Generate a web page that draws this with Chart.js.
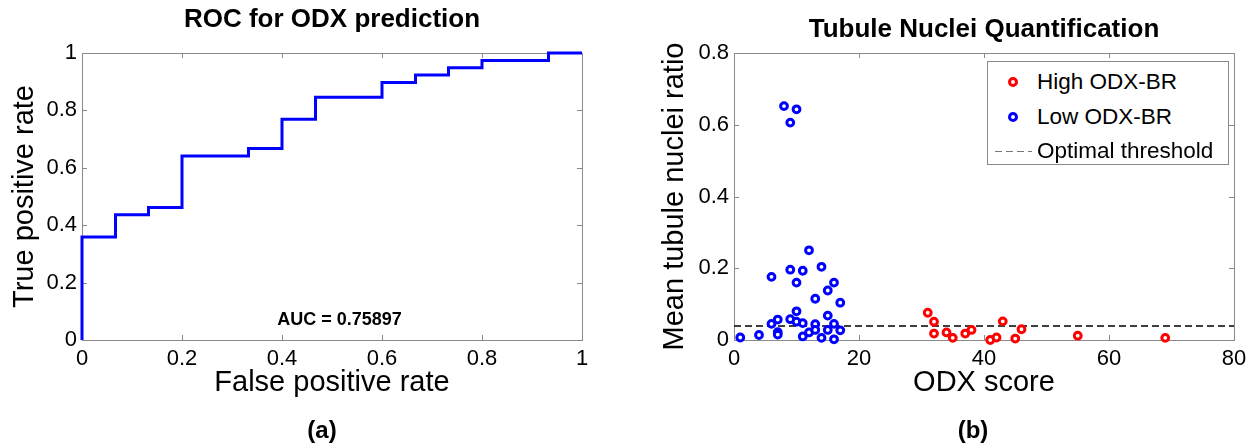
<!DOCTYPE html>
<html lang="en">
<head>
    <meta charset="UTF-8">
    <title>ROC for ODX prediction / Tubule Nuclei Quantification</title>
    <style>
        html, body { margin: 0; padding: 0; background: #fff; overflow: hidden; }
        body { width: 1256px; height: 447px; position: relative; font-family: "Liberation Sans", Arial, sans-serif; }
        #rocChart { position: absolute; left: 0; top: 0; }
        #tubuleChart { position: absolute; left: 640px; top: 0; }
        #legend { position: absolute; left: 987px; top: 61px; width: 240px; height: 102px; border: 1px solid #8a8a8a; background: #fff; font-size: 22.5px; color: #000; }
        #legend .row { position: absolute; left: 0; right: 0; height: 34px; line-height: 34px; white-space: nowrap; }
        #legend .label { position: absolute; left: 49px; top: 0; }
        #legend .dot { position: absolute; left: 20px; top: 12px; width: 4px; height: 4px; border: 3px solid; border-radius: 50%; }
        #legend .dash { position: absolute; left: 7px; top: 17px; width: 37px; height: 1px;
            background: repeating-linear-gradient(to right, #777 0 7px, transparent 7px 11px); }
    </style>
    <script src="https://cdn.jsdelivr.net/npm/chart.js"></script>
</head>
<body>
    <canvas id="rocChart" width="644" height="447"></canvas>
    <canvas id="tubuleChart" width="666" height="447"></canvas>
    <div id="legend"></div>

    <script>
        // (a) ROC curve
        const fpr = [0, 0, 0.067, 0.133, 0.2, 0.333, 0.4, 0.467, 0.6, 0.667, 0.733, 0.8, 0.933, 1];
        const tpr = [0, 0.359, 0.436, 0.462, 0.641, 0.667, 0.769, 0.846, 0.897, 0.923, 0.949, 0.974, 1, 1];
        const rocTicks = [0, 0.2, 0.4, 0.6, 0.8, 1];
        const aucLabel = 'AUC = 0.75897';

        // (b) mean tubule nuclei ratio vs ODX score
        const highScore = [31, 32, 32, 34, 35, 37, 38, 41, 42, 43, 45, 46, 55, 69];
        const highRatio = [0.076, 0.051, 0.018, 0.021, 0.006, 0.018, 0.028, 0.0, 0.007, 0.052, 0.004, 0.030, 0.012, 0.006];
        const lowScore = [1, 4, 6, 6, 7, 7, 7, 8, 9, 9, 9, 10, 10, 10, 10, 11, 11, 11, 12, 12, 13, 13, 13, 14, 14, 15, 15, 15, 16, 16, 16, 17, 17];
        const lowRatio = [0.007, 0.014, 0.176, 0.045, 0.057, 0.022, 0.015, 0.652, 0.606, 0.196, 0.058, 0.643, 0.160, 0.080, 0.051,
                          0.193, 0.047, 0.010, 0.250, 0.021, 0.115, 0.044, 0.028, 0.204, 0.006, 0.138, 0.068, 0.028, 0.160, 0.045, 0.002, 0.104, 0.027];
        const thresholdScore = [0, 80];
        const thresholdRatio = [0.039, 0.039];
        const scoreTicks = [0, 20, 40, 60, 80];
        const ratioTicks = [0, 0.2, 0.4, 0.6, 0.8];
        const seriesNames = ['High ODX-BR', 'Low ODX-BR', 'Optimal threshold'];

        Chart.defaults.font.family = '"Liberation Sans", Arial, sans-serif';
        Chart.defaults.color = '#000';

        const toPoints = (xs, ys) => xs.map((x, i) => ({ x: x, y: ys[i] }));
        const plainNumber = v => String(+Number(v).toFixed(3));

        // matlab style box with inward ticks on all four sides
        const matlabBox = {
            id: 'matlabBox',
            beforeDatasetsDraw(chart) {
                const { ctx, chartArea: a, scales } = chart;
                ctx.save();
                ctx.strokeStyle = '#8a8a8a';
                ctx.lineWidth = 1;
                ctx.strokeRect(a.left + 0.5, a.top + 0.5, a.right - a.left, a.bottom - a.top);
                ctx.beginPath();
                scales.x.ticks.forEach(t => {
                    const px = Math.round(scales.x.getPixelForValue(t.value)) + 0.5;
                    ctx.moveTo(px, a.bottom); ctx.lineTo(px, a.bottom - 5);
                    ctx.moveTo(px, a.top); ctx.lineTo(px, a.top + 5);
                });
                scales.y.ticks.forEach(t => {
                    const py = Math.round(scales.y.getPixelForValue(t.value)) + 0.5;
                    ctx.moveTo(a.left, py); ctx.lineTo(a.left + 5, py);
                    ctx.moveTo(a.right, py); ctx.lineTo(a.right - 5, py);
                });
                ctx.stroke();
                ctx.restore();
            }
        };

        function axisX(min, max, ticks, text, height) {
            return {
                type: 'linear', min: min, max: max,
                afterBuildTicks: s => { s.ticks = ticks.map(v => ({ value: v })); },
                ticks: { padding: 6, font: { size: 22 }, color: '#000', maxRotation: 0, callback: plainNumber },
                grid: { display: false, drawTicks: false },
                border: { display: false },
                title: { display: true, text: text, font: { size: 29 }, padding: { top: 0, bottom: 16.8 } },
                afterFit: s => { s.height = height; }
            };
        }

        function axisY(min, max, ticks, text, width, titlePad) {
            return {
                type: 'linear', min: min, max: max,
                afterBuildTicks: s => { s.ticks = ticks.map(v => ({ value: v })); },
                ticks: { padding: 5, font: { size: 22 }, color: '#000', callback: plainNumber },
                grid: { display: false, drawTicks: false },
                border: { display: false },
                title: { display: true, text: text, font: { size: 29 }, padding: { top: titlePad, bottom: 0 } },
                afterFit: s => { s.width = width; }
            };
        }

        function spacerY(min, max, width) {
            return {
                type: 'linear', position: 'right', min: min, max: max,
                ticks: { display: false }, grid: { display: false, drawTicks: false }, border: { display: false },
                afterFit: s => { s.width = width; }
            };
        }

        // (a)
        const aucNote = {
            id: 'aucNote',
            afterDatasetsDraw(chart) {
                const { ctx, scales } = chart;
                ctx.save();
                ctx.font = 'bold 18px "Liberation Sans", Arial, sans-serif';
                ctx.fillStyle = '#000';
                ctx.textAlign = 'center';
                ctx.textBaseline = 'middle';
                ctx.fillText(aucLabel, scales.x.getPixelForValue(0.515), scales.y.getPixelForValue(0.07));
                ctx.restore();
            }
        };

        new Chart(document.getElementById('rocChart'), {
            type: 'line',
            data: {
                datasets: [{
                    label: 'ROC',
                    data: toPoints(fpr, tpr),
                    xAxisID: 'x', yAxisID: 'y',
                    borderColor: '#0000ff',
                    borderWidth: 3,
                    stepped: 'before',
                    pointRadius: 0,
                    fill: false,
                    clip: false
                }]
            },
            options: {
                responsive: false,
                animation: false,
                events: [],
                layout: { padding: 0 },
                scales: {
                    x: axisX(0, 1, rocTicks, 'False positive rate', 77.2),
                    y: axisY(0, 1, rocTicks, 'True positive rate', 82, 7.6),
                    yRight: spacerY(0, 1, 62)
                },
                plugins: {
                    legend: { display: false },
                    tooltip: { enabled: false },
                    title: {
                        display: true, text: 'ROC for ODX prediction', fullSize: false,
                        font: { size: 26, weight: 'bold' }, color: '#000',
                        padding: { top: 4, bottom: 17.8 }
                    },
                    subtitle: {
                        display: true, text: '(a)', position: 'bottom', fullSize: true,
                        font: { size: 24, weight: 'bold' }, color: '#000',
                        padding: { top: 0, bottom: 1 }
                    }
                }
            },
            plugins: [matlabBox, aucNote]
        });

        // (b)
        const tubuleChart = new Chart(document.getElementById('tubuleChart'), {
            type: 'scatter',
            data: {
                datasets: [{
                    label: seriesNames[0],
                    data: toPoints(highScore, highRatio),
                    xAxisID: 'x', yAxisID: 'y',
                    borderColor: '#ff0000', backgroundColor: '#ffffff',
                    pointRadius: 3.4, borderWidth: 3, clip: false
                }, {
                    label: seriesNames[1],
                    data: toPoints(lowScore, lowRatio),
                    xAxisID: 'x', yAxisID: 'y',
                    borderColor: '#0000ff', backgroundColor: '#ffffff',
                    pointRadius: 3.4, borderWidth: 3, clip: false
                }, {
                    label: seriesNames[2],
                    type: 'line',
                    data: toPoints(thresholdScore, thresholdRatio),
                    xAxisID: 'x', yAxisID: 'y',
                    showLine: true,
                    borderColor: '#000', borderWidth: 1.3, borderDash: [7, 4],
                    pointRadius: 0, fill: false
                }]
            },
            options: {
                responsive: false,
                animation: false,
                events: [],
                layout: { padding: 0 },
                scales: {
                    x: axisX(0, 80, scoreTicks, 'ODX score', 77.2),
                    y: axisY(0, 0.8, ratioTicks, 'Mean tubule nuclei ratio', 94, 17.6),
                    yRight: spacerY(0, 0.8, 72)
                },
                plugins: {
                    legend: { display: false },
                    tooltip: { enabled: false },
                    title: {
                        display: true, text: 'Tubule Nuclei Quantification', fullSize: false,
                        font: { size: 26, weight: 'bold' }, color: '#000',
                        padding: { top: 13.9, bottom: 7.9 }
                    },
                    subtitle: {
                        display: true, text: '(b)', position: 'bottom', fullSize: true,
                        font: { size: 24, weight: 'bold' }, color: '#000',
                        padding: { top: 0, bottom: 1 }
                    }
                }
            },
            plugins: [matlabBox]
        });

        // boxed legend in the upper right, built from the datasets
        const legendEl = document.getElementById('legend');
        tubuleChart.data.datasets.forEach((ds, i) => {
            const row = document.createElement('div');
            row.className = 'row';
            row.style.top = (3 + i * 34.5) + 'px';
            const sym = document.createElement('span');
            if (ds.showLine) {
                sym.className = 'dash';
            } else {
                sym.className = 'dot';
                sym.style.borderColor = ds.borderColor;
            }
            const label = document.createElement('span');
            label.className = 'label';
            label.textContent = ds.label;
            row.appendChild(sym);
            row.appendChild(label);
            legendEl.appendChild(row);
        });
    </script>
</body>
</html>
